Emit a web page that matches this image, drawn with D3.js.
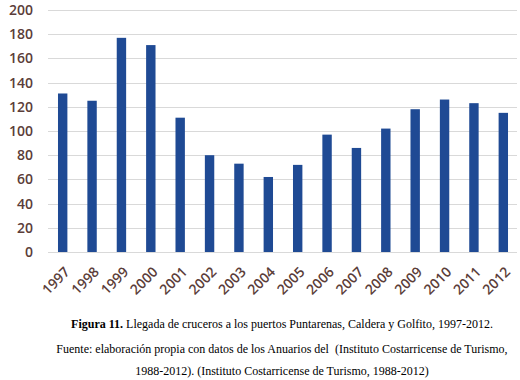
<!DOCTYPE html>
<html>
<head>
<meta charset="utf-8">
<script src="https://cdn.jsdelivr.net/npm/d3@7"></script>
<style>
  body { margin: 0; background: #fff; }
</style>
</head>
<body>
<svg id="chart" width="520" height="380"></svg>
<script>
// data
const years = ["1997", "1998", "1999", "2000", "2001", "2002", "2003", "2004",
               "2005", "2006", "2007", "2008", "2009", "2010", "2011", "2012"];
const arrivals = [131, 125, 177, 171, 111, 80, 73, 62, 72, 97, 86, 102, 118, 126, 123, 115];
const yTicks = [0, 20, 40, 60, 80, 100, 120, 140, 160, 180, 200];
const captionLines = [
  { bold: "Figura 11.", rest: " Llegada de cruceros a los puertos Puntarenas, Caldera y Golfito, 1997-2012." },
  { bold: "", rest: "Fuente: elaboración propia con datos de los Anuarios del  (Instituto Costarricense de Turismo," },
  { bold: "", rest: "1988-2012). (Instituto Costarricense de Turismo, 1988-2012)" }
];

const svg = d3.select("#chart");
const width = 520, height = 380;
const margin = { top: 10, right: 2, bottom: 128, left: 48 };
const w = width - margin.left - margin.right;
const h = height - margin.top - margin.bottom;

const data = years.map((y, i) => ({ year: y, value: arrivals[i] }));

const g = svg.append("g")
  .attr("transform", `translate(${margin.left},${margin.top})`);

// scales
const x = d3.scaleBand()
  .domain(years)
  .range([0, w])
  .paddingInner(0.68)
  .paddingOuter(0.34);

const y = d3.scaleLinear()
  .domain([0, 200])
  .range([h, 0]);

const labelColor = "#5b3d39";
const labelFont = "'Open Sans', sans-serif";

// gridlines
g.append("g")
  .selectAll("line")
  .data(yTicks)
  .join("line")
    .attr("x1", 0)
    .attr("x2", w - 1)
    .attr("y1", d => Math.round(y(d)) + 0.5)
    .attr("y2", d => Math.round(y(d)) + 0.5)
    .attr("stroke", "#d9d9d9")
    .attr("stroke-width", 1.2);

// y axis labels
const yAxis = g.append("g")
  .call(d3.axisLeft(y).tickValues(yTicks).tickSize(0).tickPadding(15));
yAxis.select(".domain").remove();
yAxis.selectAll("text")
  .attr("fill", labelColor)
  .attr("font-family", labelFont)
  .attr("font-weight", 600)
  .attr("font-size", "14px");

// bars
g.selectAll("rect.bar")
  .data(data)
  .join("rect")
    .attr("class", "bar")
    .attr("x", d => x(d.year))
    .attr("y", d => y(d.value))
    .attr("width", x.bandwidth())
    .attr("height", d => h - y(d.value))
    .attr("fill", "#1f4a94");

// x axis labels, rotated
g.append("g")
  .selectAll("text")
  .data(years)
  .join("text")
    .attr("transform", d => `translate(${x(d) + x.bandwidth() / 2 + 1},${h + 14}) rotate(-45)`)
    .attr("text-anchor", "end")
    .attr("dy", "0.7em")
    .attr("fill", labelColor)
    .attr("font-family", labelFont)
    .attr("font-weight", 600)
    .attr("font-size", "14px")
    .text(d => d);

// caption
const cap = svg.append("g")
  .attr("font-family", "'Liberation Serif', 'Times New Roman', serif")
  .attr("font-size", "12px")
  .attr("fill", "#000");

const capY = [328, 353, 375];
captionLines.forEach((line, i) => {
  const t = cap.append("text")
    .attr("x", 282)
    .attr("y", capY[i])
    .attr("text-anchor", "middle")
    .attr("xml:space", "preserve");
  if (line.bold) t.append("tspan").attr("font-weight", "bold").text(line.bold);
  t.append("tspan").text(line.rest);
});
</script>
</body>
</html>
